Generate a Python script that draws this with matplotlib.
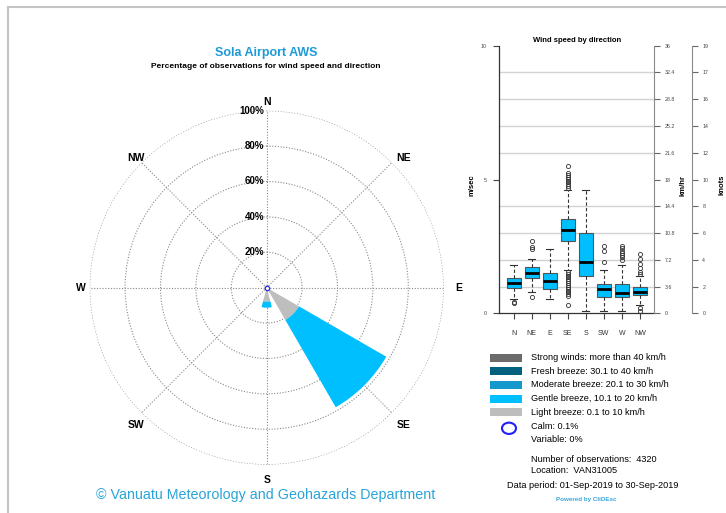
import matplotlib
matplotlib.use("Agg")
import matplotlib.pyplot as plt
import numpy as np
from matplotlib.patches import Rectangle, Ellipse
from matplotlib.lines import Line2D

plt.rcParams["font.family"] = ["Liberation Sans", "DejaVu Sans"]

# wind rose: percentage of observations per direction and speed class
directions = ["N", "NE", "E", "SE", "S", "SW", "W", "NW"]
dir_angles = [0, 45, 90, 135, 180, 225, 270, 315]
light_pct = [1.5, 1.5, 1.5, 21.0, 7.9, 1.5, 1.5, 2.0]     # 0.1 to 10 km/h
gentle_pct = [0.0, 0.0, 0.0, 57.0, 3.4, 0.0, 0.0, 0.0]    # 10.1 to 20 km/h
ring_pct = [20, 40, 60, 80, 100]

# wind speed box plot stats (m/s) per direction
med = [1.12, 1.52, 1.21, 3.11, 1.91, 0.91, 0.75, 0.81]
q1 = [0.96, 1.31, 0.90, 2.70, 1.39, 0.62, 0.60, 0.68]
q3 = [1.31, 1.72, 1.49, 3.51, 3.01, 1.10, 1.10, 1.00]
whis_lo = [0.52, 0.81, 0.52, 1.62, 0.10, 0.10, 0.10, 0.31]
whis_hi = [1.81, 2.02, 2.40, 4.61, 4.61, 1.62, 1.79, 1.39]
outliers = [
    [0.42, 0.38],
    [2.71, 2.49, 2.40, 0.62],
    [],
    [4.68, 4.75, 4.82, 4.89, 4.96, 5.03, 5.10, 5.17, 5.24, 5.50,
     1.55, 1.48, 1.41, 1.34, 1.27, 1.20, 1.13, 1.06, 0.99, 0.92,
     0.85, 0.78, 0.71, 0.64, 0.31],
    [],
    [2.52, 2.34, 1.91],
    [2.52, 2.43, 2.34, 2.27, 2.18, 2.09, 1.99],
    [2.22, 2.02, 1.83, 1.68, 1.56, 1.46, 0.19, 0.10],
]
kmh_ticks = [0, 3.6, 7.2, 10.8, 14.4, 18, 21.6, 25.2, 28.8, 32.4, 36]
kmh_labels = ["0", "3.6", "7.2", "10.8", "14.4", "18", "21.6", "25.2", "28.8", "32.4", "36"]
knot_labels = ["0", "2", "4", "6", "8", "10", "12", "14", "16", "17", "19"]

legend_labels = ["Strong winds: more than 40 km/h", "Fresh breeze: 30.1 to 40 km/h",
                 "Moderate breeze: 20.1 to 30 km/h", "Gentle breeze, 10.1 to 20 km/h",
                 "Light breeze: 0.1 to 10 km/h"]
legend_colors = ["#6b6b6b", "#03617f", "#1599cc", "#00bfff", "#bdbdbd"]

W, H = 726, 513
fig = plt.figure(figsize=(W / 100, H / 100), dpi=100)


def fx(px):
    return px / W


def fy(py):
    return 1 - py / H


# page frame
frame = dict(color="#c4c4c4", lw=1.5)
fig.add_artist(Line2D([fx(8), 1], [fy(7), fy(7)], **frame))
fig.add_artist(Line2D([fx(8), fx(8)], [fy(7), 0], **frame))

# ---- wind rose ----
cx, cy, rad = 266.7, 287.7, 177
ax = fig.add_axes([fx(cx - rad), fy(cy + rad), 2 * rad / W, 2 * rad / H], projection="polar")
ax.set_theta_zero_location("N")
ax.set_theta_direction(-1)
ax.set_ylim(0, 100)
ax.set_rgrids(ring_pct, labels=[])
ax.set_thetagrids(dir_angles, labels=[])
ax.grid(color="#8a8a8a", linestyle=(0, (1, 1.5)), linewidth=0.8)
ax.spines["polar"].set_visible(False)
ax.set_facecolor("none")

theta = np.radians(dir_angles)
wedge = np.radians(30)
ax.bar(theta, light_pct, width=wedge, color="#bebebe", linewidth=0, zorder=2)
ax.bar(theta, gentle_pct, bottom=light_pct, width=wedge, color="#00bfff", linewidth=0, zorder=2)
ax.scatter([0], [0], s=10, facecolors="white", edgecolors="#2a2aff", linewidths=0.9, zorder=3)

# compass labels: nudged right on east/west sides and down on north/south sides
for ang, lab in zip(theta, directions):
    dx = 2.2 if abs(np.sin(ang)) > 0.1 else 0
    dy = -2.5 if abs(np.cos(ang)) > 0.1 else 0
    ax.annotate(lab, xy=(ang, 106.8), xytext=(dx, dy), textcoords="offset points",
                ha="center", va="center", fontsize=7.5, fontweight="bold", annotation_clip=False)
for r in ring_pct:
    ax.annotate(f"{r}%", xy=(0, r), xytext=(-1.5, 0), textcoords="offset points",
                ha="right", va="center", fontsize=7, fontweight="bold")

fig.text(fx(266), fy(53), "Sola Airport AWS", ha="center", va="center",
         fontsize=9, fontweight="bold", color="#1e9bd7")
fig.text(fx(266), fy(67), "Percentage of observations for wind speed and direction",
         ha="center", va="center", fontsize=6, fontweight="bold")
fig.text(fx(266), fy(495), "\u00a9 Vanuatu Meteorology and Geohazards Department",
         ha="center", va="center", fontsize=10.3, color="#29a3da")

# ---- box plot ----
bax = fig.add_axes([fx(499.3), fy(313.3), 155 / W, (313.3 - 45.7) / H])
stats = [dict(med=m, q1=a, q3=b, whislo=lo, whishi=hi, fliers=f)
         for m, a, b, lo, hi, f in zip(med, q1, q3, whis_lo, whis_hi, outliers)]
bax.bxp(stats, positions=range(1, 9), widths=0.8, capwidths=0.4, patch_artist=True,
        boxprops=dict(facecolor="#00bfff", edgecolor="#555555", linewidth=0.8),
        medianprops=dict(color="black", linewidth=2),
        whiskerprops=dict(color="#333333", linestyle=(0, (3, 2)), linewidth=0.8),
        capprops=dict(color="#333333", linewidth=0.8),
        flierprops=dict(marker="o", markersize=3, markerfacecolor="none",
                        markeredgecolor="#333333", markeredgewidth=0.6))
bax.set_xlim(0.2, 8.8)
bax.set_ylim(0, 10)
bax.set_xticks(range(1, 9))
bax.set_xticklabels(directions)
bax.set_yticks([0, 5, 10])
bax.set_yticks(range(0, 11), minor=True)
bax.grid(which="minor", axis="y", color="#d2d2d2", linewidth=1)
bax.set_axisbelow(True)
bax.tick_params(which="minor", length=0)
bax.tick_params(axis="y", length=4.3, pad=4.7, labelsize=3.8, color="#444444", labelcolor="#444444")
bax.tick_params(axis="x", length=4.3, pad=8, labelsize=5, color="#444444", labelcolor="#333333")
for s in ["top", "right"]:
    bax.spines[s].set_visible(False)
for s in ["left", "bottom"]:
    bax.spines[s].set_color("#333333")
    bax.spines[s].set_linewidth(0.9)

kax = bax.twinx()
kax.set_ylim(0, 36)
kax.set_yticks(kmh_ticks)
kax.set_yticklabels(kmh_labels)
kax.tick_params(length=4.3, pad=2.9, labelsize=3.8, color="#666666", labelcolor="#444444")
for s in ["top", "left", "bottom"]:
    kax.spines[s].set_visible(False)
kax.spines["right"].set_color("#8a8a8a")

nax = bax.twinx()
nax.set_ylim(0, 10)
nax.set_yticks(range(0, 11))
nax.set_yticklabels(knot_labels)
nax.spines["right"].set_position(("outward", 27.4))
nax.tick_params(length=4.3, pad=2.9, labelsize=3.8, color="#666666", labelcolor="#444444")
for s in ["top", "left", "bottom"]:
    nax.spines[s].set_visible(False)
nax.spines["right"].set_color("#8a8a8a")

fig.text(fx(576.7), fy(40), "Wind speed by direction", ha="center", va="center",
         fontsize=5.5, fontweight="bold")
for xp, lab in [(471.7, "m/sec"), (682.7, "km/hr"), (722, "knots")]:
    fig.text(fx(xp), fy(185), lab, rotation=90, ha="center", va="center",
             fontsize=5.5, fontweight="bold")

# ---- legend and notes ----
for i, (lab, col) in enumerate(zip(legend_labels, legend_colors)):
    ycen = 357.5 + i * 13.7
    fig.add_artist(Rectangle((fx(490), fy(ycen + 4)), 32 / W, 8 / H,
                             transform=fig.transFigure, color=col, lw=0))
    fig.text(fx(531), fy(ycen), lab, ha="left", va="center", fontsize=6.6)

fig.add_artist(Ellipse((fx(509), fy(428.3)), 14 / W, 11.3 / H, transform=fig.transFigure,
                       fill=False, edgecolor="#2020ff", linewidth=1.5))
notes = [(426.7, "Calm: 0.1%"), (439.3, "Variable: 0%"),
         (459.3, "Number of observations:  4320"), (470.7, "Location:  VAN31005")]
for yp, txt in notes:
    fig.text(fx(531), fy(yp), txt, ha="left", va="center", fontsize=6.6)
fig.text(fx(506.7), fy(486), "Data period: 01-Sep-2019 to 30-Sep-2019",
         ha="left", va="center", fontsize=6.6)
fig.text(fx(586), fy(499), "Powered by CliDEsc", ha="center", va="center",
         fontsize=4.5, fontweight="bold", color="#3aa6dd")

fig.savefig("out.png", dpi=100)
